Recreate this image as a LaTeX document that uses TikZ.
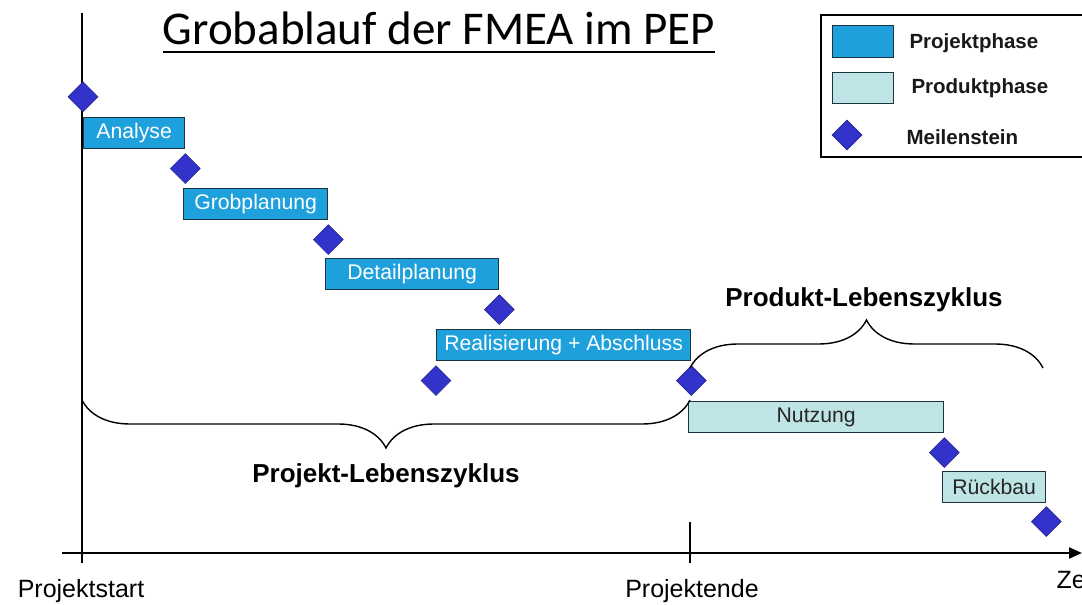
\documentclass[tikz,border=0pt]{standalone}
\usepackage{fontspec}
\setmainfont{Liberation Sans}
\newfontfamily\titlefont{Carlito}
\usepackage{xcolor}
\usepackage{tikz}
\usetikzlibrary{arrows.meta, positioning, shapes.geometric, decorations.pathreplacing}

\definecolor{projblue}{HTML}{1EA0DC}
\definecolor{prodcyan}{HTML}{BFE4E6}
\definecolor{milestone}{HTML}{3333CC}
\definecolor{boxedge}{HTML}{1C3440}

\begin{document}
\begin{tikzpicture}[
  x=1pt, y=-1pt,
  node distance=4pt,
  projphase/.style={draw=boxedge, line width=1.3pt, fill=projblue, text=white, anchor=north west,
    inner sep=0pt, minimum height=31pt, font=\fontsize{21.2}{24}\selectfont},
  prodphase/.style={draw=boxedge, line width=1.3pt, fill=prodcyan, text=black!85, anchor=north west,
    inner sep=0pt, minimum height=31pt, font=\fontsize{21.2}{24}\selectfont},
  mstone/.style={diamond, draw=milestone!70!black, line width=0.6pt, fill=milestone, inner sep=0pt,
    minimum width=30pt, minimum height=30pt},
  axis/.style={line width=2.2pt},
  lifebrace/.style={decorate, decoration={brace, amplitude=48pt, aspect=0.5}, line width=1.4pt},
  label/.style={font=\fontsize{25}{30}\selectfont},
  biglabel/.style={font=\bfseries\fontsize{26}{30}\selectfont},
  legtext/.style={anchor=west, text=black!90, font=\bfseries\fontsize{20.5}{24}\selectfont}
]
\useasboundingbox (0,0) rectangle (1082,605);
\clip (0,0) rectangle (1082,605);

% title
\node[anchor=base, inner sep=0pt, font=\titlefont\fontsize{47}{52}\selectfont] (title) at (439,44) {Grobablauf der FMEA im PEP};
\draw[line width=2pt] ([yshift=-8pt]title.base west) -- ([yshift=-8pt]title.base east);

% axes
\coordinate (ytop) at (82,13);
\coordinate (ybot) at (82,563);
\coordinate (xleft) at (62,553);
\coordinate (xright) at (1082,553);
\coordinate (endtop) at (690,522);
\coordinate (endbot) at (690,563);
\draw[axis] (ybot) -- (ytop);
\draw[axis, -{Triangle[length=13pt, width=11pt]}] (xleft) -- (xright);
\draw[axis] (endtop) -- (endbot);

\node[label] (start) at (81,591) {Projektstart};
\node[label] (ende) at (692,591) {Projektende};
\node[label, anchor=west] (zeit) at (1053,580) {Zeit};

% phases
\node[projphase, minimum width=101pt] (analyse) at (83,117) {Analyse};
\node[projphase, minimum width=144pt] (grob) at (183,188) {Grobplanung};
\node[projphase, minimum width=173pt] (detail) at (325,258) {Detailplanung};
\node[projphase, minimum width=254pt] (real) at (436,329) {Realisierung + Abschluss};
\node[prodphase, minimum width=255pt] (nutzung) at (688,401) {Nutzung};
\node[prodphase, minimum width=103pt] (rueck) at (942,471) {Rückbau};

% milestones
\node[mstone, above=5pt of analyse.north west, anchor=south] (m0) {};
\node[mstone, below=4pt of analyse.south east, anchor=north] (m1) {};
\node[mstone, below=4pt of grob.south east, anchor=north] (m2) {};
\node[mstone, below=4pt of detail.south east, anchor=north] (m3) {};
\node[mstone, below=4pt of real.south west, anchor=north] (m4) {};
\node[mstone, below=4pt of real.south east, anchor=north] (m5) {};
\node[mstone, below=4pt of nutzung.south east, anchor=north] (m6) {};
\node[mstone, below=3pt of rueck.south east, anchor=north] (m7) {};

% life cycles
\coordinate (pjl) at (82,400);
\coordinate (pjr) at (690,400);
\coordinate (pdl) at (690,368);
\coordinate (pdr) at (1043,368);
\draw[lifebrace] (pjr) -- (pjl);
\draw[lifebrace] (pdl) -- (pdr);
\node[biglabel] (projlife) at (386,476) {Projekt-Lebenszyklus};
\node[biglabel] (prodlife) at (864,300) {Produkt-Lebenszyklus};

% legend
\draw[line width=1.5pt] (821,15) rectangle (1092,157);
\node[projphase, minimum width=61pt, minimum height=32pt] (legproj) at (832,25) {};
\node[prodphase, minimum width=61pt, minimum height=31pt] (legprod) at (832,72) {};
\node[mstone] (legms) at (847,135) {};
\node[legtext] at (906,43) {Projektphase};
\node[legtext] at (908,88) {Produktphase};
\node[legtext] at (903,137) {Meilenstein};
\end{tikzpicture}
\end{document}
